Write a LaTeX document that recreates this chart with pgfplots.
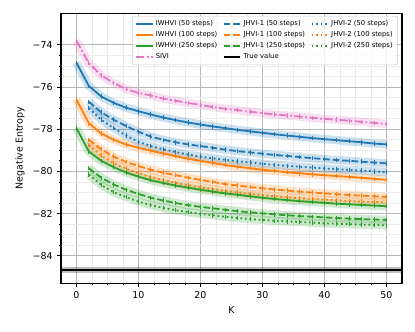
\documentclass[border=0pt]{standalone}
\usepackage{pgfplots}
\pgfplotsset{compat=1.18}
\usepackage{pgfplotstable}
\usepackage{fontspec}
\setmainfont{DejaVu Sans}

\definecolor{cblue}{HTML}{1F77B4}
\definecolor{corange}{HTML}{FF7F0E}
\definecolor{cgreen}{HTML}{2CA02C}
\definecolor{cpink}{HTML}{E377C2}

% negative entropy vs K
\pgfplotstableread{
K  iwa    iwb    iwc    sivi   ja     jb     jc     ka     kb     kc
0  -74.85 -76.60 -77.95 -73.80 nan    nan    nan    nan    nan    nan
2  -75.95 -77.72 -79.06 -74.87 -76.70 -78.50 -79.85 -77.00 -78.75 -80.15
4  -76.45 -78.20 -79.50 -75.45 -77.20 -78.95 -80.30 -77.55 -79.25 -80.65
6  -76.75 -78.50 -79.80 -75.80 -77.55 -79.30 -80.62 -77.95 -79.60 -80.98
8  -76.98 -78.72 -80.05 -76.10 -77.85 -79.55 -80.87 -78.30 -79.87 -81.22
10 -77.15 -78.88 -80.25 -76.28 -78.12 -79.75 -81.07 -78.60 -80.08 -81.43
12 -77.30 -79.02 -80.42 -76.40 -78.35 -79.92 -81.25 -78.80 -80.27 -81.60
14 -77.45 -79.15 -80.55 -76.55 -78.50 -80.06 -81.38 -78.95 -80.42 -81.73
16 -77.57 -79.28 -80.67 -76.65 -78.62 -80.18 -81.50 -79.08 -80.55 -81.84
18 -77.68 -79.40 -80.77 -76.75 -78.72 -80.30 -81.60 -79.20 -80.66 -81.93
20 -77.78 -79.50 -80.87 -76.85 -78.80 -80.40 -81.68 -79.30 -80.76 -82.01
22 -77.87 -79.60 -80.96 -76.95 -78.88 -80.50 -81.75 -79.38 -80.85 -82.08
24 -77.95 -79.70 -81.04 -77.03 -78.97 -80.60 -81.82 -79.45 -80.93 -82.15
26 -78.03 -79.78 -81.11 -77.10 -79.04 -80.67 -81.88 -79.52 -81.00 -82.21
28 -78.10 -79.85 -81.18 -77.17 -79.10 -80.74 -81.94 -79.58 -81.07 -82.26
30 -78.17 -79.92 -81.25 -77.24 -79.16 -80.80 -81.99 -79.64 -81.13 -82.30
32 -78.24 -79.98 -81.31 -77.30 -79.22 -80.86 -82.04 -79.69 -81.18 -82.34
34 -78.30 -80.04 -81.36 -77.35 -79.27 -80.91 -82.08 -79.74 -81.23 -82.37
36 -78.36 -80.09 -81.41 -77.40 -79.32 -80.96 -82.12 -79.78 -81.27 -82.40
38 -78.42 -80.14 -81.45 -77.46 -79.37 -81.00 -82.15 -79.82 -81.31 -82.43
40 -78.47 -80.18 -81.49 -77.51 -79.42 -81.04 -82.18 -79.86 -81.34 -82.46
42 -78.52 -80.22 -81.53 -77.55 -79.46 -81.08 -82.21 -79.90 -81.37 -82.48
44 -78.57 -80.26 -81.56 -77.60 -79.50 -81.12 -82.24 -79.93 -81.40 -82.50
46 -78.62 -80.30 -81.59 -77.65 -79.54 -81.15 -82.26 -79.96 -81.43 -82.52
48 -78.68 -80.35 -81.62 -77.70 -79.58 -81.18 -82.28 -80.00 -81.45 -82.54
50 -78.72 -80.40 -81.65 -77.75 -79.62 -81.21 -82.30 -80.04 -81.47 -82.56
}\data

\pgfplotstableread{
x     y
-2.5  -84.68
52.5  -84.68
}\truth

\begin{document}
\begin{tikzpicture}
\path[use as bounding box] (-43.9pt,-35.1pt) rectangle (254.9pt,203.9pt);
\begin{axis}[
    at={(0,0)}, anchor=south west,
    scale only axis,
    width=245.5pt, height=194.4pt,
    xmin=-2.5, xmax=52.5,
    ymin=-85.3, ymax=-72.5,
    xtick={0,10,20,30,40,50},
    ytick={-84,-82,-80,-78,-76,-74},
    yticklabels={−84,−82,−80,−78,−76,−74},
    minor x tick num=3,
    minor y tick num=3,
    grid=both,
    major grid style={color=black!28, line width=0.5pt},
    minor grid style={color=black!8, line width=0.4pt},
    axis line style={black, line width=0.9pt},
    tick align=outside,
    xtick pos=bottom, ytick pos=left,
    major tick length=2.5pt,
    minor tick length=1.5pt,
    tick style={black, line width=0.6pt},
    ticklabel style={font=\fontsize{6.8}{8}\selectfont},
    /pgf/number format/assume math mode=true,
    xlabel={K},
    ylabel={Negative Entropy},
    label style={font=\fontsize{6.8}{8}\selectfont},
    xlabel style={yshift=1pt},
    ylabel style={yshift=-1pt},
    legend columns=3,
    legend cell align=left,
    legend style={
        at={(0.988,0.99)}, anchor=north east,
        font=\fontsize{4.9}{5.5}\selectfont,
        draw=black!20, rounded corners=1.5pt,
        fill=white, fill opacity=0.8, text opacity=1, draw opacity=1,
        inner xsep=2pt, inner ysep=2pt,
        nodes={inner xsep=1.5pt, inner ysep=0.9pt},
        row sep=1pt,
        /tikz/every odd column/.style={column sep=0pt},
        /tikz/every even column/.style={column sep=2.5pt},
    },
    every axis plot/.append style={line width=1.3pt, mark=|, mark size=1.6pt, mark options={solid, line width=0.6pt}},
    legend image code/.code={\draw[#1, mark=none] (0pt,0pt) -- (12pt,0pt);},
    legend image post style={line width=1.4pt, opacity=1, draw opacity=1},
]

% shaded bands
\foreach \c/\col in {iwa/cblue,iwb/corange,iwc/cgreen,sivi/cpink,ja/cblue,jb/corange,jc/cgreen,ka/cblue,kb/corange,kc/cgreen}{
  \edef\tmp{\noexpand\addplot[forget plot, \col, opacity=0.22, line width=6pt, mark=none, line join=round] table[x=K, y=\c] {\noexpand\data};}
  \tmp
}
\addplot[forget plot, black, opacity=0.25, line width=4pt, mark=none] table {\truth};

\addplot[cblue] table[x=K, y=iwa] {\data};
\addlegendentry{IWHVI (50 steps)}
\addplot[cblue, dash pattern=on 4.8pt off 2pt] table[x=K, y=ja] {\data};
\addlegendentry{JHVI-1 (50 steps)}
\addplot[cblue, dash pattern=on 1.3pt off 2pt] table[x=K, y=ka] {\data};
\addlegendentry{JHVI-2 (50 steps)}

\addplot[corange] table[x=K, y=iwb] {\data};
\addlegendentry{IWHVI (100 steps)}
\addplot[corange, dash pattern=on 4.8pt off 2pt] table[x=K, y=jb] {\data};
\addlegendentry{JHVI-1 (100 steps)}
\addplot[corange, dash pattern=on 1.3pt off 2pt] table[x=K, y=kb] {\data};
\addlegendentry{JHVI-2 (100 steps)}

\addplot[cgreen] table[x=K, y=iwc] {\data};
\addlegendentry{IWHVI (250 steps)}
\addplot[cgreen, dash pattern=on 4.8pt off 2pt] table[x=K, y=jc] {\data};
\addlegendentry{JHVI-1 (250 steps)}
\addplot[cgreen, dash pattern=on 1.3pt off 2pt] table[x=K, y=kc] {\data};
\addlegendentry{JHVI-2 (250 steps)}

\addplot[cpink, dash pattern=on 6pt off 1.8pt on 1.3pt off 1.8pt] table[x=K, y=sivi] {\data};
\addlegendentry{SIVI}
\addplot[black, line width=1.3pt, mark=none] table {\truth};
\addlegendentry{True value}

\end{axis}
\end{tikzpicture}
\end{document}
